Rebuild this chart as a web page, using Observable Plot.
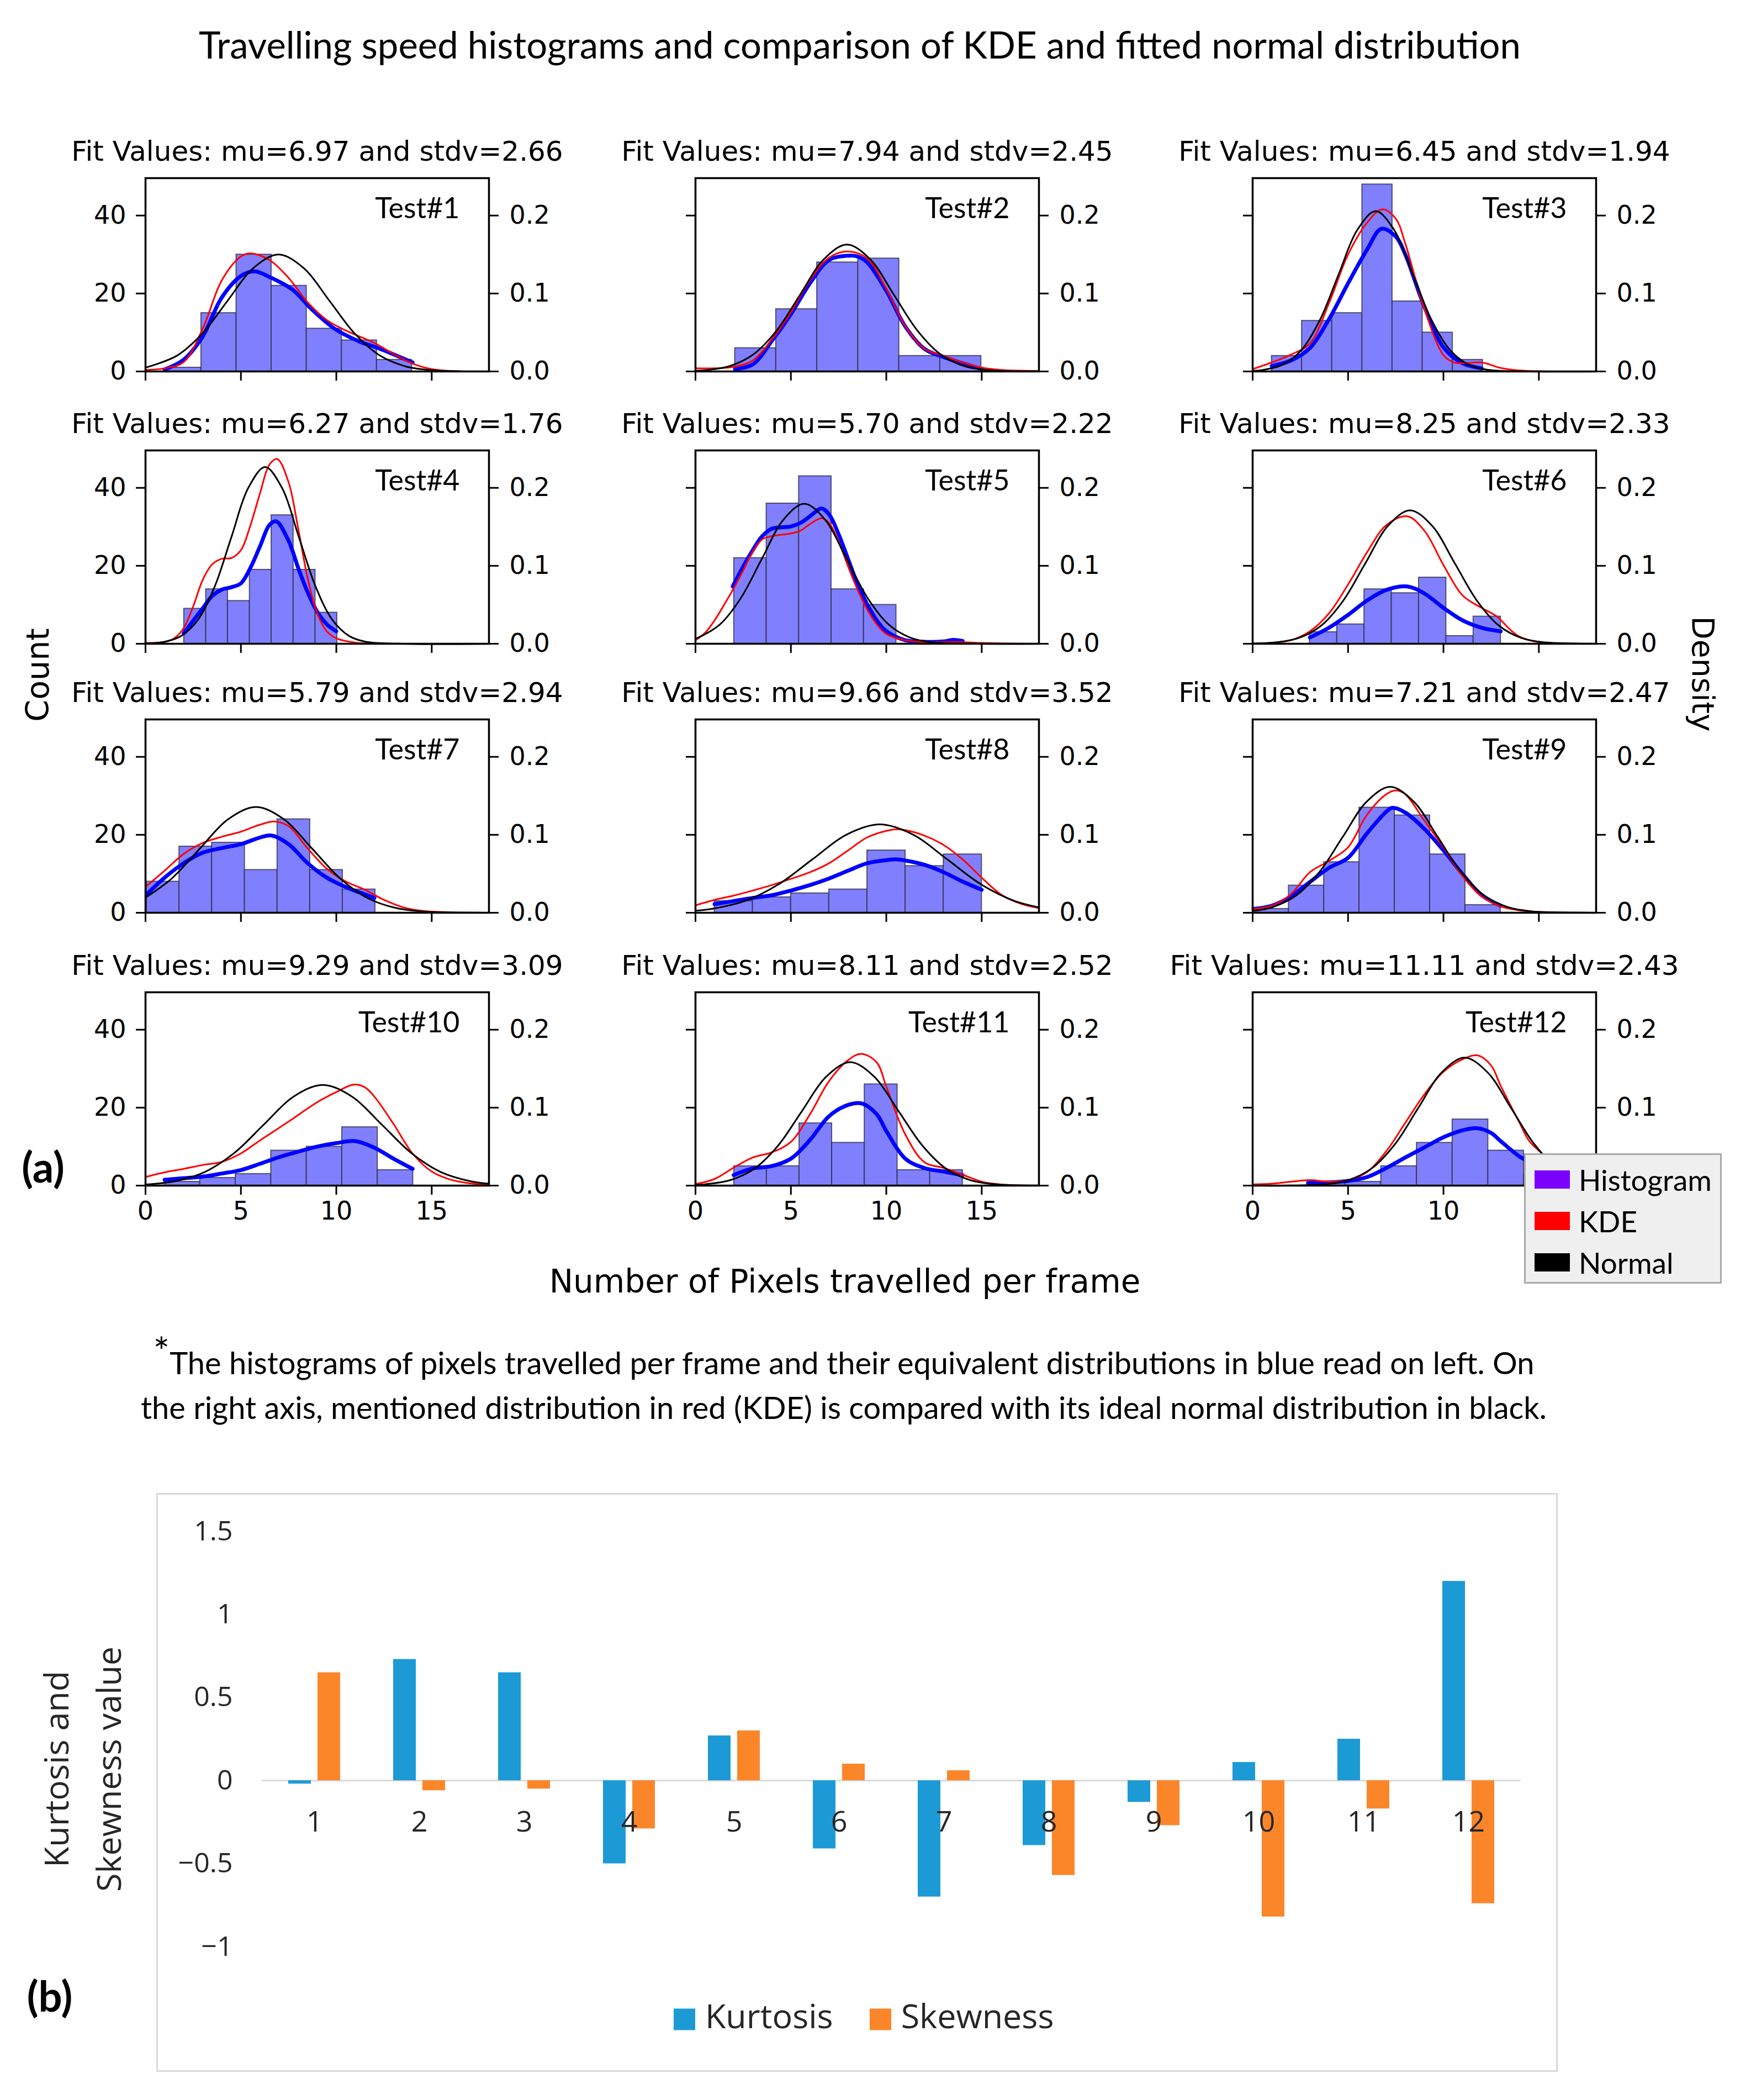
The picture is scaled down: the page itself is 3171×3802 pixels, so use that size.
<!DOCTYPE html>
<html><head><meta charset="utf-8">
<script src="https://cdn.jsdelivr.net/npm/d3@7"></script>
<script src="https://cdn.jsdelivr.net/npm/@observablehq/plot@0.6"></script>
<style>
html,body{margin:0;padding:0;background:#fff;}
#page{position:relative;width:3171px;height:3802px;overflow:hidden;background:#fff;}
svg{overflow:visible;}
.t{position:absolute;white-space:nowrap;color:#000;}
</style></head><body><div id="page"></div>
<script>
// ---------------- DATA ----------------
const tests = ["Test#1","Test#2","Test#3","Test#4","Test#5","Test#6","Test#7","Test#8","Test#9","Test#10","Test#11","Test#12"];
const fitMu = [6.97, 7.94, 6.45, 6.27, 5.70, 8.25, 5.79, 9.66, 7.21, 9.29, 8.11, 11.11];
const fitSd = [2.66, 2.45, 1.94, 1.76, 2.22, 2.33, 2.94, 3.52, 2.47, 3.09, 2.52, 2.43];
const countTicks = [0, 20, 40];
const xTicks = [0, 5, 10, 15];
const countPerDensity = 200;

const histEdges = [
  [1.08, 2.92, 4.76, 6.60, 8.44, 10.28, 12.12, 13.96],
  [2.07, 4.22, 6.37, 8.52, 10.67, 12.82, 14.97],
  [1.0, 2.58, 4.16, 5.74, 7.32, 8.90, 10.48, 12.06],
  [2.02, 3.17, 4.31, 5.46, 6.60, 7.75, 8.90, 10.04],
  [2.02, 3.72, 5.42, 7.12, 8.82, 10.52],
  [2.99, 4.42, 5.85, 7.28, 8.71, 10.14, 11.57, 13.0],
  [0.06, 1.77, 3.48, 5.20, 6.91, 8.62, 10.33, 12.04],
  [1.0, 3.0, 5.0, 7.0, 9.0, 11.0, 13.0, 15.0],
  [0.04, 1.89, 3.74, 5.59, 7.44, 9.29, 11.14, 12.99],
  [1.0, 2.86, 4.72, 6.58, 8.44, 10.30, 12.16, 14.02],
  [2.02, 3.73, 5.44, 7.15, 8.86, 10.58, 12.29, 14.0],
  [2.99, 4.86, 6.73, 8.60, 10.47, 12.34, 14.21, 16.08]
];
const histCounts = [
  [1, 15, 30, 22, 11, 8, 3],
  [6, 16, 28, 29, 4, 4],
  [4, 13, 15, 48, 18, 10, 3],
  [9, 14, 11, 19, 33, 19, 8],
  [22, 36, 43, 14, 10],
  [3, 5, 14, 13, 17, 2, 7],
  [8, 17, 18, 11, 24, 11, 6],
  [3, 4, 5, 6, 16, 12, 15],
  [1, 7, 13, 27, 25, 15, 2],
  [1, 2, 3, 9, 10, 15, 4],
  [5, 5, 16, 11, 26, 4, 4],
  [1, 1, 5, 11, 17, 9, 3]
];
// blue curve (left axis, counts)
const countKdeX = [
  [1.0, 2.0, 3.0, 4.0, 5.0, 5.7, 6.6, 7.7, 8.7, 9.9, 11.2, 12.2, 14.0],
  [2.07, 3, 4, 5, 6, 7, 8, 8.5, 9, 10, 11, 12, 13, 14, 15],
  [1, 2, 3, 4, 5, 6, 6.75, 7.5, 8, 9, 10, 11, 12],
  [2, 2.5, 3, 3.5, 4, 4.5, 5, 5.5, 6, 6.5, 6.85, 7.5, 8, 8.5, 9, 9.5, 10],
  [1.95, 2.5, 3, 3.5, 4, 5, 5.5, 6, 6.6, 7, 7.5, 8, 8.5, 9, 9.5, 10, 11, 12, 13, 13.5, 14],
  [3, 4, 5, 6, 7, 8.1, 9, 10, 11, 12, 13],
  [0.06, 1, 2, 3, 4, 5, 6, 6.6, 7.5, 8.5, 9.5, 10.5, 11.5, 12],
  [1, 2, 3, 4, 5, 6, 7, 8, 9, 10, 10.5, 11, 12, 13, 14, 15],
  [0.04, 1, 2, 3, 4, 5, 6, 7, 7.3, 8, 9, 10, 11, 12, 13],
  [1, 2, 3, 4, 5, 6, 7, 8, 9, 10, 11, 12, 13, 14],
  [2, 3, 4, 5, 6, 7, 8, 8.7, 9.5, 10, 11, 12, 13, 14],
  [2.9, 4, 5, 6, 7, 8, 9, 10, 11, 11.8, 12.5, 13, 14, 14.5, 15, 16]
];
const countKdeY = [
  [0.5, 3, 9, 19, 24.5, 25.7, 24, 21, 16, 11, 7.7, 6, 2.3],
  [0.6, 1.8, 7.8, 14.7, 22.6, 28.6, 29.7, 29.5, 28, 20.7, 11.5, 5.8, 3.7, 2.1, 0.6],
  [1.4, 2.8, 6, 13.4, 22.6, 31.3, 36.6, 34.6, 30, 16.6, 6.2, 2.1, 0.8],
  [2.7, 5.9, 9.1, 12.3, 13.9, 14.5, 15.5, 19.5, 25, 30.5, 31.4, 26.4, 19.5, 13.2, 8.2, 5, 3.2],
  [14.7, 19.8, 24, 27.6, 29.5, 30.1, 31, 32.7, 34.7, 33.2, 28.1, 21.7, 15.2, 10.1, 6, 3.2, 0.9, 0.5, 0.6, 1, 0.7],
  [1.6, 4.1, 7.4, 11.1, 13.8, 14.7, 12.9, 9.2, 6, 4.1, 3.2],
  [4.7, 9, 12.7, 15.4, 16.6, 17.6, 19.3, 19.8, 17.6, 12.7, 9, 6.6, 4.7, 3.8],
  [2.2, 3, 3.8, 4.5, 5.7, 7.1, 8.8, 10.8, 12.7, 13.5, 13.7, 13.4, 12.3, 10.4, 8, 5.9],
  [1, 1.8, 4.2, 7.9, 11.5, 14.1, 20.4, 25.9, 26.9, 25.7, 21.5, 16, 9.9, 4.5, 1.8],
  [1.5, 1.9, 2.3, 3.1, 4, 5.6, 7.3, 8.7, 10, 10.9, 11.4, 9.7, 6.9, 4.3],
  [2.7, 4.4, 5, 6.9, 11.7, 17.8, 20.7, 21.1, 18.3, 14, 6.9, 4.5, 3.6, 2.7],
  [0.7, 0.8, 1.2, 2.2, 4.5, 7.2, 9.8, 12.4, 14.2, 14.7, 13.5, 11.4, 7.4, 6.1, 4.5, 2.5]
];
// red KDE (right axis, density)
const kdeX = [
  [0, 1, 2, 3, 4, 5, 5.5, 6.5, 7.5, 8.5, 9.5, 10.5, 12, 13, 14, 15, 16, 18],
  [0, 1, 2, 3, 4, 5, 6, 7, 8, 9, 10, 11, 12, 13, 14, 15, 16, 17, 18],
  [0, 1, 2, 3, 4, 5, 6, 6.8, 7.5, 8, 9, 10, 10.5, 11, 12, 13, 14, 15, 18],
  [0, 1, 1.5, 2, 2.5, 3, 3.5, 4, 4.5, 5, 5.5, 6, 6.5, 6.9, 7.5, 8, 8.5, 9, 9.5, 10, 11, 12, 18],
  [0, 0.5, 1, 1.5, 2, 2.5, 3, 3.5, 4, 5, 5.5, 6, 6.6, 7, 7.5, 8, 8.5, 9, 9.5, 10, 11, 12, 13, 14, 15, 16, 18],
  [0, 1, 2, 3, 4, 5, 6, 7, 8.1, 9, 10, 11, 12, 12.8, 13.5, 14, 15, 16, 18],
  [0, 1, 2, 3, 4, 5, 6, 6.8, 7.5, 8.5, 9.5, 10.5, 11.5, 12.5, 13.5, 14.5, 16, 18],
  [0, 1, 2, 3, 4, 5, 6, 7, 8, 9, 10, 10.5, 11, 12, 13, 14, 15, 16, 17, 18],
  [0, 1, 2, 3, 4, 5, 6, 7, 7.5, 8, 9, 10, 11, 12, 13, 14, 15, 18],
  [0, 1, 2, 3, 4, 5, 6, 7, 8, 9, 10, 10.9, 11.5, 12, 13, 14, 15, 16, 17, 18],
  [0, 1, 2, 3, 4, 5, 6, 7, 8, 8.7, 9.5, 10, 11, 12, 13, 14, 15, 16, 18],
  [0, 1, 2, 3, 4, 5, 6, 7, 8, 9, 10, 11, 11.8, 12.5, 13, 14, 14.5, 15.4, 16, 17, 18]
];
const kdeY = [
  [0.002, 0.004, 0.012, 0.055, 0.117, 0.1475, 0.1515, 0.143, 0.12, 0.0885, 0.066, 0.0525, 0.0365, 0.0225, 0.01, 0.003, 0.0005, 0],
  [0.004, 0.004, 0.006, 0.014, 0.041, 0.076, 0.117, 0.146, 0.154, 0.145, 0.106, 0.058, 0.029, 0.02, 0.0115, 0.005, 0.002, 0.001, 0.0005],
  [0.003, 0.0115, 0.0215, 0.036, 0.0875, 0.15, 0.191, 0.208, 0.196, 0.164, 0.08, 0.021, 0.012, 0.0105, 0.0115, 0.0045, 0.0012, 0.0003, 0],
  [0.001, 0.0023, 0.007, 0.02, 0.048, 0.082, 0.102, 0.109, 0.11, 0.12, 0.152, 0.193, 0.23, 0.237, 0.207, 0.148, 0.084, 0.039, 0.016, 0.007, 0.0015, 0.0003, 0],
  [0.0045, 0.014, 0.03, 0.05, 0.071, 0.094, 0.118, 0.134, 0.138, 0.1415, 0.145, 0.1535, 0.161, 0.155, 0.131, 0.099, 0.069, 0.044, 0.025, 0.0125, 0.0045, 0.002, 0.002, 0.002, 0.001, 0.0005, 0],
  [0, 0.001, 0.0045, 0.016, 0.039, 0.076, 0.1175, 0.152, 0.1635, 0.145, 0.101, 0.062, 0.046, 0.035, 0.018, 0.009, 0.002, 0.0005, 0],
  [0.033, 0.054, 0.0755, 0.0895, 0.0975, 0.104, 0.113, 0.117, 0.111, 0.0825, 0.0565, 0.04, 0.0295, 0.0165, 0.007, 0.0025, 0.0005, 0],
  [0.0095, 0.0165, 0.022, 0.0285, 0.0355, 0.0435, 0.052, 0.0635, 0.08, 0.0967, 0.105, 0.107, 0.106, 0.099, 0.087, 0.0684, 0.045, 0.0236, 0.012, 0.006],
  [0.005, 0.009, 0.0236, 0.052, 0.0665, 0.084, 0.126, 0.152, 0.157, 0.152, 0.118, 0.084, 0.047, 0.021, 0.008, 0.003, 0.001, 0],
  [0.011, 0.017, 0.0215, 0.0265, 0.0305, 0.0413, 0.058, 0.074, 0.0905, 0.107, 0.12, 0.1295, 0.126, 0.114, 0.079, 0.041, 0.018, 0.0075, 0.003, 0.001],
  [0.002, 0.0085, 0.023, 0.036, 0.0427, 0.056, 0.0915, 0.134, 0.161, 0.169, 0.158, 0.127, 0.0654, 0.03, 0.0227, 0.014, 0.005, 0.0015, 0],
  [0.0015, 0.0025, 0.005, 0.007, 0.005, 0.007, 0.0175, 0.044, 0.0805, 0.117, 0.146, 0.162, 0.167, 0.154, 0.128, 0.08, 0.057, 0.036, 0.02, 0.007, 0.002]
];
// black fitted normal (right axis, density)
const normalX = [
  [0, 1.65, 2.98, 4.31, 5.64, 6.97, 8.30, 9.63, 10.96, 12.29, 13.62, 14.95, 16.5, 18],
  [0, 0.59, 1.815, 3.04, 4.265, 5.49, 6.715, 7.94, 9.165, 10.39, 11.615, 12.84, 14.065, 15.29, 18],
  [0, 0.63, 1.60, 2.57, 3.54, 4.51, 5.48, 6.45, 7.42, 8.39, 9.36, 10.33, 11.30, 12.27, 14.21, 18],
  [0, 0.99, 1.87, 2.75, 3.63, 4.51, 5.39, 6.27, 7.15, 8.03, 8.91, 9.79, 10.67, 11.55, 13.31, 18],
  [0, 0.15, 1.26, 2.37, 3.48, 4.59, 5.70, 6.81, 7.92, 9.03, 10.14, 11.25, 12.36, 14.58, 18],
  [0, 1.26, 2.425, 3.59, 4.755, 5.92, 7.085, 8.25, 9.415, 10.58, 11.745, 12.91, 14.075, 15.24, 17.57, 18],
  [0, 1.38, 2.85, 4.32, 5.79, 7.26, 8.73, 10.2, 11.67, 13.14, 14.61, 17.55, 18],
  [0, 0.86, 2.62, 4.38, 6.14, 7.90, 9.66, 11.42, 13.18, 14.94, 16.70, 18],
  [0, 1.035, 2.27, 3.505, 4.74, 5.975, 7.21, 8.445, 9.68, 10.915, 12.15, 13.385, 14.62, 17.09, 18],
  [0, 1.565, 3.11, 4.655, 6.2, 7.745, 9.29, 10.835, 12.38, 13.925, 15.47, 17.015, 18],
  [0, 0.55, 1.81, 3.07, 4.33, 5.59, 6.85, 8.11, 9.37, 10.63, 11.89, 13.15, 14.41, 15.67, 18],
  [0, 2, 3.82, 5.035, 6.25, 7.465, 8.68, 9.895, 11.11, 12.325, 13.54, 14.755, 15.97, 17.185, 18]
];
const normalY = [
  [0.0049, 0.0203, 0.0487, 0.0910, 0.1324, 0.1500, 0.1324, 0.0910, 0.0487, 0.0203, 0.0066, 0.0017, 0.0002, 0],
  [0.0008, 0.0018, 0.0071, 0.0220, 0.0529, 0.0987, 0.1437, 0.1628, 0.1437, 0.0987, 0.0529, 0.0220, 0.0071, 0.0018, 0.0001],
  [0.0008, 0.0023, 0.0090, 0.0278, 0.0668, 0.1247, 0.1814, 0.2056, 0.1814, 0.1247, 0.0668, 0.0278, 0.0090, 0.0023, 0.0001, 0],
  [0.0004, 0.0025, 0.0100, 0.0307, 0.0736, 0.1375, 0.2001, 0.2267, 0.2001, 0.1375, 0.0736, 0.0307, 0.0100, 0.0025, 0.0001, 0],
  [0.0066, 0.0079, 0.0243, 0.0583, 0.1090, 0.1586, 0.1797, 0.1586, 0.1090, 0.0583, 0.0243, 0.0079, 0.0020, 0.0001, 0],
  [0.0003, 0.0019, 0.0075, 0.0232, 0.0556, 0.1038, 0.1511, 0.1712, 0.1511, 0.1038, 0.0556, 0.0232, 0.0075, 0.0019, 0.0001, 0],
  [0.0195, 0.0441, 0.0823, 0.1198, 0.1357, 0.1198, 0.0823, 0.0441, 0.0184, 0.0060, 0.0015, 0.0001, 0],
  [0.0026, 0.0050, 0.0153, 0.0368, 0.0687, 0.1000, 0.1133, 0.1000, 0.0687, 0.0368, 0.0153, 0.0068],
  [0.0023, 0.0071, 0.0219, 0.0524, 0.0980, 0.1425, 0.1615, 0.1425, 0.0980, 0.0524, 0.0219, 0.0071, 0.0018, 0.0001, 0],
  [0.0014, 0.0057, 0.0175, 0.0419, 0.0783, 0.1139, 0.1291, 0.1139, 0.0783, 0.0419, 0.0175, 0.0057, 0.0024],
  [0.0009, 0.0018, 0.0069, 0.0214, 0.0514, 0.0960, 0.1397, 0.1583, 0.1397, 0.0960, 0.0514, 0.0214, 0.0069, 0.0018, 0.0001],
  [0, 0.0001, 0.0018, 0.0072, 0.0222, 0.0533, 0.0996, 0.1449, 0.1642, 0.1449, 0.0996, 0.0533, 0.0222, 0.0072, 0.0030]
];

// (b) bar chart
const testNumbers = [1, 2, 3, 4, 5, 6, 7, 8, 9, 10, 11, 12];
const kurtosis = [-0.02, 0.73, 0.65, -0.50, 0.27, -0.41, -0.70, -0.39, -0.13, 0.11, 0.25, 1.20];
const skewness = [0.65, -0.06, -0.05, -0.29, 0.30, 0.10, 0.06, -0.57, -0.27, -0.82, -0.17, -0.74];
const barTicks = [-1, -0.5, 0, 0.5, 1, 1.5];
const seriesNames = ["Kurtosis", "Skewness"];
const seriesColors = ["#1c9ad6", "#fb8629"];

const legendNames = ["Histogram", "KDE", "Normal"];
const legendColors = ["#7a00ff", "#ff0000", "#000000"];

// ---------------- LAYOUT ----------------
const page = document.getElementById("page");
function place(el, left, top) {
  el.style.position = "absolute";
  el.style.left = left + "px";
  el.style.top = top + "px";
  page.appendChild(el);
  return el;
}
function label(html, css) {
  const d = document.createElement("div");
  d.className = "t";
  d.innerHTML = html;
  Object.assign(d.style, css);
  page.appendChild(d);
  return d;
}

const colLeft = [263, 1259, 2268];
const rowTop = [322, 815, 1302, 1796];
const PW = 622, PH = 350;
const ML = 140, MR = 160, MT = 110, MB = 110;

tests.forEach((name, i) => {
  const r = Math.floor(i / 3), c = i % 3;
  const bars = histCounts[i].map((n, k) => ({x1: histEdges[i][k], x2: histEdges[i][k + 1], n}));
  const blue = countKdeX[i].map((x, k) => ({x, y: countKdeY[i][k]}));
  const red = kdeX[i].map((x, k) => ({x, d: kdeY[i][k]}));
  const black = normalX[i].map((x, k) => ({x, d: normalY[i][k]}));
  const dens = p => p.d * countPerDensity;
  const title = `Fit Values: mu=${fitMu[i].toFixed(2)} and stdv=${fitSd[i].toFixed(2)}`;
  const last = i === tests.length - 1; // the legend box covers part of the last panel's labels
  const xFmt = r !== 3 ? (() => "") : (last ? (d => d === 15 ? "" : String(d)) : (d => String(d)));
  const rFmt = last ? (d => d === 0 ? "" : (d / countPerDensity).toFixed(1)) : (d => (d / countPerDensity).toFixed(1));
  const svg = Plot.plot({
    width: ML + PW + MR, height: MT + PH + MB,
    marginLeft: ML, marginRight: MR, marginTop: MT, marginBottom: MB,
    x: {domain: [0, 18]},
    y: {domain: [0, 49.6]},
    style: {fontFamily: "DejaVu Sans", background: "transparent", overflow: "visible", color: "#000"},
    marks: [
      Plot.rectY(bars, {x1: "x1", x2: "x2", y: "n", fill: "#8080ff", stroke: "#2b2b40", strokeWidth: 2, strokeOpacity: 0.75}),
      Plot.line(blue, {x: "x", y: "y", stroke: "#0000ff", strokeWidth: 7, curve: "catmull-rom"}),
      Plot.line(red, {x: "x", y: dens, stroke: "#ff0000", strokeWidth: 3, curve: "catmull-rom"}),
      Plot.line(black, {x: "x", y: dens, stroke: "#000000", strokeWidth: 3, curve: "catmull-rom"}),
      Plot.frame({stroke: "#000", strokeWidth: 3.5}),
      Plot.axisY({anchor: "left", ticks: countTicks, tickSize: 17, tickPadding: 18, strokeWidth: 3, fontSize: 46,
        tickFormat: c === 0 ? (d => String(d)) : (() => ""), label: null}),
      Plot.axisY({anchor: "right", ticks: countTicks, tickSize: 17, tickPadding: 20, strokeWidth: 3, fontSize: 46,
        tickFormat: rFmt, label: null}),
      Plot.axisX({anchor: "bottom", ticks: xTicks, tickSize: 17, tickPadding: 12, strokeWidth: 3, fontSize: 46,
        tickFormat: xFmt, label: null}),
      Plot.text([name], {frameAnchor: "top-right", dx: -53, dy: 72, textAnchor: "end", lineAnchor: "bottom",
        fontSize: 52, fontFamily: "Lato", fill: "#000"}),
      Plot.text([title], {frameAnchor: "top", dy: -32, lineAnchor: "bottom", fontSize: 50, fill: "#000"})
    ]
  });
  place(svg, colLeft[c] - ML, rowTop[r] - MT);
});

// figure texts (a)
label("Travelling speed histograms and comparison of KDE and fitted normal distribution",
  {left: "1557px", top: "80px", transform: "translate(-50%,-50%)", fontFamily: "Lato", fontSize: "67px"});
label("Count", {left: "68px", top: "1222px", transform: "translate(-50%,-50%) rotate(-90deg)", fontFamily: "DejaVu Sans", fontSize: "57px"});
label("Density", {left: "3084px", top: "1220px", transform: "translate(-50%,-50%) rotate(90deg)", fontFamily: "DejaVu Sans", fontSize: "55px"});
label("(a)", {left: "78px", top: "2111px", transform: "translate(-50%,-50%)", fontFamily: "Lato", fontWeight: "bold", fontSize: "76px"});
label("Number of Pixels travelled per frame", {left: "1530px", top: "2320px", transform: "translate(-50%,-50%)", fontFamily: "DejaVu Sans", fontSize: "58px"});
label('<span style="font-size:70px;position:relative;top:-16px">*</span>The histograms of pixels travelled per frame and their equivalent distributions in blue read on left. On',
  {left: "1528px", top: "2461px", transform: "translate(-50%,-50%)", fontFamily: "Lato", fontSize: "56px"});
label("the right axis, mentioned distribution in red (KDE) is compared with its ideal normal distribution in black.",
  {left: "1528px", top: "2547px", transform: "translate(-50%,-50%)", fontFamily: "Lato", fontSize: "56px"});

// legend (a)
{
  const box = document.createElement("div");
  Object.assign(box.style, {position: "absolute", left: "2760px", top: "2088px", width: "358px", height: "236px",
    background: "#efefef", border: "3px solid #a8a8a8", boxSizing: "border-box", zIndex: 5});
  page.appendChild(box);
  legendNames.forEach((n, k) => {
    const row = document.createElement("div");
    Object.assign(row.style, {position: "absolute", left: "16px", top: (14 + k * 75) + "px", height: "60px",
      display: "flex", alignItems: "center", fontFamily: "Lato", fontSize: "53px", color: "#000", whiteSpace: "nowrap"});
    row.innerHTML = `<span style="display:inline-block;width:64px;height:33px;background:${legendColors[k]};margin-right:16px"></span>${n}`;
    box.appendChild(row);
  });
}

// ---------------- (b) bar chart ----------------
{
  const BX = 283, BY = 2703, BW = 2538, BH = 1048;
  const frame = document.createElement("div");
  Object.assign(frame.style, {position: "absolute", left: BX + "px", top: BY + "px", width: BW + "px", height: BH + "px",
    border: "3px solid #d9d9d9", boxSizing: "border-box"});
  page.appendChild(frame);

  const rows = [];
  testNumbers.forEach((t, i) => {
    rows.push({t, s: seriesNames[0], v: kurtosis[i]});
    rows.push({t, s: seriesNames[1], v: skewness[i]});
  });
  const bc = Plot.plot({
    width: BW, height: BH,
    marginLeft: 188, marginRight: 65, marginTop: 69, marginBottom: 227,
    fx: {domain: testNumbers, padding: 0, axis: null, label: null},
    x: {domain: seriesNames, paddingInner: 0.222, paddingOuter: 0.875, axis: null},
    y: {domain: [-1, 1.5], ticks: barTicks, tickSize: 0, tickPadding: 53, label: null, grid: false, tickFormat: d3.format("")},
    color: {domain: seriesNames, range: seriesColors},
    style: {fontFamily: "Open Sans", fontSize: "50px", color: "#262626", background: "transparent", overflow: "visible"},
    marks: [
      Plot.ruleY([0], {stroke: "#d9d9d9", strokeWidth: 3}),
      Plot.barY(rows, {fx: "t", x: "s", y: "v", fill: "s"}),
      Plot.text(testNumbers, {fx: d => d, y: () => 0, text: d => String(d), dy: 76, fontSize: 52,
        fontFamily: "Open Sans", fill: "#262626"})
    ]
  });
  place(bc, BX, BY);

  label("Kurtosis and", {left: "100px", top: "3203px", transform: "translate(-50%,-50%) rotate(-90deg)", fontFamily: "Open Sans", fontSize: "61px", color: "#262626"});
  label("Skewness value", {left: "195px", top: "3203px", transform: "translate(-50%,-50%) rotate(-90deg)", fontFamily: "Open Sans", fontSize: "61px", color: "#262626"});
  label("(b)", {left: "90px", top: "3612px", transform: "translate(-50%,-50%)", fontFamily: "Lato", fontWeight: "bold", fontSize: "76px"});

  label(seriesNames.map((n, k) =>
      `<span style="display:inline-block;width:39px;height:39px;background:${seriesColors[k]};margin-right:18px;vertical-align:-4px"></span>${n}`
    ).join('<span style="display:inline-block;width:66px"></span>'),
    {left: "1220px", top: "3648px", transform: "translateY(-50%)", fontFamily: "Open Sans", fontSize: "61px", color: "#262626"});
}
</script>
</body></html>
